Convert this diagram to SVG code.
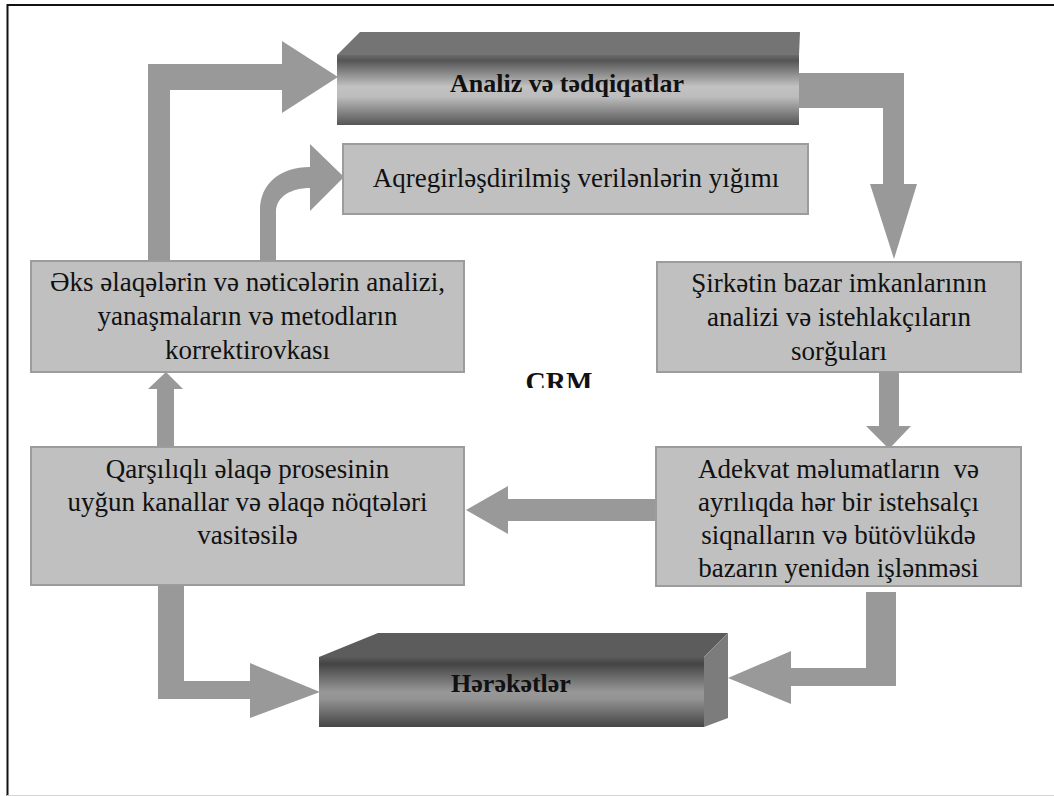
<svg xmlns="http://www.w3.org/2000/svg" width="1054" height="796" viewBox="0 0 1054 796">
  <style>
    .box { fill: #c0c0c0; stroke: #9c9c9c; stroke-width: 2; }
    .arrow { fill: #999999; }
  </style>
  <defs>
    <linearGradient id="frontTop" x1="0" y1="0" x2="0" y2="1">
      <stop offset="0" stop-color="#6a6a6a"/>
      <stop offset="0.08" stop-color="#555"/>
      <stop offset="0.45" stop-color="#c2c2c2"/>
      <stop offset="0.6" stop-color="#bcbcbc"/>
      <stop offset="1" stop-color="#555"/>
    </linearGradient>
    <linearGradient id="frontBottom" x1="0" y1="0" x2="0" y2="1">
      <stop offset="0" stop-color="#5a5a5a"/>
      <stop offset="0.1" stop-color="#444"/>
      <stop offset="0.5" stop-color="#989898"/>
      <stop offset="0.6" stop-color="#939393"/>
      <stop offset="1" stop-color="#454545"/>
    </linearGradient>
    <clipPath id="crmClip">
      <rect x="480" y="350" width="160" height="38"/>
    </clipPath>
  </defs>

  <!-- page frame -->
  <g id="frame">
    <line x1="7.5" y1="5" x2="1054" y2="5" stroke="#111" stroke-width="2"/>
    <line x1="7.5" y1="4" x2="7.5" y2="796" stroke="#111" stroke-width="2"/>
    <line x1="7" y1="795.5" x2="1054" y2="795.5" stroke="#d4d4d4" stroke-width="1"/>
  </g>

  <!-- connectors -->
  <g id="connectors">
    <!-- feedback -> analysis (up, then right) -->
    <polygon class="arrow" points="148,261 148,64 282,64 282,41 338,77 282,113 282,90 170,90 170,261"/>
    <!-- feedback -> aggregated data (curved) -->
    <path class="arrow" d="M260,261 L260,210 C260,184 280,167 310,167 L310,144 L344,177 L310,211 L310,188 C292,188 276,196 276,212 L276,261 Z"/>
    <!-- analysis -> market capabilities -->
    <polygon class="arrow" points="799,73 904,73 904,184 917,184 894,259 870,184 883,184 883,108 799,108"/>
    <!-- market capabilities -> adequate data -->
    <polygon class="arrow" points="879,372 899,372 899,426 911,426 889,449 866,426 879,426"/>
    <!-- adequate data -> interaction -->
    <polygon class="arrow" points="655,499 655,521 508,521 508,534 466,510 508,486 508,499"/>
    <!-- interaction -> feedback -->
    <polygon class="arrow" points="157,447 157,389 148,389 166,372 183,389 174,389 174,447"/>
    <!-- interaction -> actions -->
    <polygon class="arrow" points="158,585 184,585 184,681 250,681 250,663 320,692 250,718 250,699 158,699"/>
    <!-- adequate data -> actions -->
    <polygon class="arrow" points="866,592 896,592 896,686 791,686 791,704 728,678 791,651 791,668 866,668"/>
  </g>

  <g font-family="Liberation Serif, serif" font-size="27" fill="#111" text-anchor="middle">
  <!-- 3D block: analysis -->
  <g id="analysis">
    <polygon points="337,55 360,32 800,32 799,55" fill="#747474"/>
    <rect x="337" y="55" width="462" height="70" fill="url(#frontTop)"/>
    <text x="567" y="92" font-weight="bold" font-size="26">Analiz və tədqiqatlar</text>
  </g>

  <g id="aggregated">
    <rect class="box" x="343" y="144" width="465" height="70"/>
    <text x="576" y="187">Aqregirləşdirilmiş verilənlərin yığımı</text>
  </g>

  <g id="feedback">
    <rect class="box" x="31" y="261" width="433" height="111"/>
    <text x="247.5" y="291">Əks əlaqələrin və nəticələrin analizi,</text>
    <text x="247.5" y="325">yanaşmaların və metodların</text>
    <text x="247.5" y="359">korrektirovkası</text>
  </g>

  <g id="market">
    <rect class="box" x="657" y="262" width="364" height="110"/>
    <text x="839" y="292">Şirkətin bazar imkanlarının</text>
    <text x="839" y="326">analizi və istehlakçıların</text>
    <text x="839" y="360">sorğuları</text>
  </g>

  <g id="crm">
    <text x="559" y="391" font-weight="bold" font-size="28" clip-path="url(#crmClip)">CRM</text>
  </g>

  <g id="interaction">
    <rect class="box" x="31" y="447" width="433" height="138"/>
    <text x="247.5" y="478">Qarşılıqlı əlaqə prosesinin</text>
    <text x="247.5" y="511">uyğun kanallar və əlaqə nöqtələri</text>
    <text x="247.5" y="544">vasitəsilə</text>
  </g>

  <g id="adequate">
    <rect class="box" x="656" y="447" width="365" height="139"/>
    <text x="838.5" y="478" xml:space="preserve">Adekvat məlumatların  və</text>
    <text x="838.5" y="511">ayrılıqda hər bir istehsalçı</text>
    <text x="838.5" y="544">siqnalların və bütövlükdə</text>
    <text x="838.5" y="577">bazarın yenidən işlənməsi</text>
  </g>

  <!-- 3D block: actions -->
  <g id="actions">
    <polygon points="319,657 378,633 728,633 704,657" fill="#5c5c5c"/>
    <polygon points="704,657 728,633 728,718 704,727" fill="#7c7c7c"/>
    <rect x="319" y="657" width="385" height="70" fill="url(#frontBottom)"/>
    <text x="511" y="692" font-weight="bold" font-size="26">Hərəkətlər</text>
  </g>
  </g>
</svg>
